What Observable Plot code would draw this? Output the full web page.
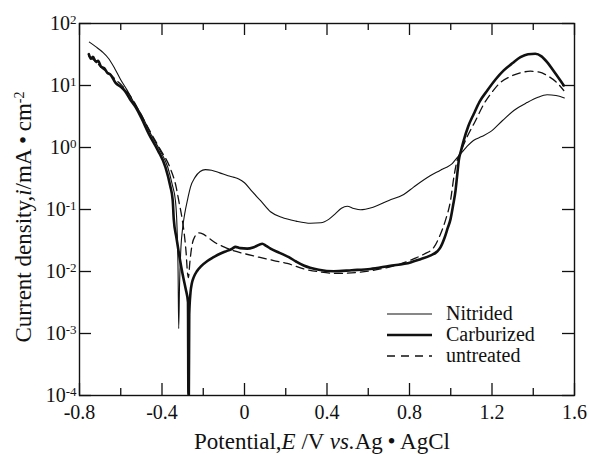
<!DOCTYPE html>
<html><head><meta charset="utf-8">
<script src="https://cdn.jsdelivr.net/npm/d3@7"></script>
<script src="https://cdn.jsdelivr.net/npm/@observablehq/plot@0.6"></script>
<style>
body{margin:0;background:#fff;}
#wrap{position:relative;width:589px;height:454px;}
#wrap svg text, #wrap svg tspan{font-family:'Liberation Serif','Times New Roman',serif !important;}
</style></head><body><div id="wrap"></div>
<script>
// ---- data (potential E in V, current density i in mA/cm2) ----
const nitridedE = [-0.752,-0.72,-0.69,-0.658,-0.63,-0.601,-0.57,-0.54,-0.5,-0.455,-0.41,-0.372,-0.35,-0.335,-0.327,-0.322,-0.319,-0.315,-0.308,-0.3,-0.29,-0.275,-0.262,-0.24,-0.215,-0.19,-0.16,-0.12,-0.08,-0.05,-0.028,0.0,0.04,0.077,0.126,0.18,0.25,0.32,0.37,0.41,0.44,0.47,0.498,0.53,0.562,0.62,0.7,0.772,0.82,0.9,0.95,0.966,0.985,1.007,1.03,1.055,1.08,1.11,1.15,1.193,1.25,1.306,1.37,1.42,1.467,1.51,1.551];
const nitridedI = [50,42,35,27,19,12.5,8.5,5.6,3.4,1.66,0.9,0.48,0.25,0.14,0.05,0.01,0.0012,0.006,0.025,0.05,0.085,0.15,0.23,0.33,0.41,0.44,0.43,0.39,0.35,0.33,0.31,0.27,0.19,0.14,0.092,0.075,0.065,0.06,0.061,0.07,0.085,0.105,0.113,0.104,0.099,0.108,0.14,0.175,0.23,0.35,0.43,0.46,0.49,0.55,0.68,0.84,1.05,1.3,1.5,1.8,2.7,3.95,5.3,6.4,7.1,6.9,6.3];

const carburizedE = [-0.755,-0.745,-0.735,-0.72,-0.71,-0.695,-0.68,-0.665,-0.65,-0.625,-0.6,-0.58,-0.555,-0.528,-0.5,-0.464,-0.42,-0.383,-0.36,-0.348,-0.343,-0.33,-0.315,-0.3,-0.285,-0.274,-0.272,-0.27,-0.268,-0.262,-0.255,-0.246,-0.23,-0.21,-0.18,-0.15,-0.116,-0.085,-0.06,-0.044,-0.02,0.013,0.05,0.086,0.105,0.126,0.17,0.215,0.25,0.287,0.36,0.433,0.52,0.61,0.7,0.805,0.853,0.9,0.934,0.95,0.97,0.985,0.999,1.012,1.023,1.032,1.039,1.05,1.063,1.085,1.112,1.14,1.177,1.217,1.257,1.3,1.338,1.375,1.41,1.44,1.467,1.505,1.548];
const carburizedI = [32,27,29,24,25,20,19,16,15,11,9.5,8.2,6.0,4.5,3.0,1.66,0.9,0.48,0.24,0.14,0.07,0.035,0.017,0.009,0.0052,0.0032,0.0001,0.0001,0.002,0.0045,0.0065,0.0081,0.0102,0.0122,0.0148,0.017,0.0195,0.0215,0.0233,0.025,0.0238,0.0234,0.025,0.028,0.026,0.0234,0.02,0.017,0.0145,0.0125,0.0107,0.0101,0.0105,0.011,0.0123,0.014,0.0158,0.018,0.021,0.0245,0.035,0.05,0.07,0.12,0.2,0.38,0.62,0.89,1.3,2.2,3.5,5.5,8.3,12.5,17.5,23,28.6,32,32.6,29.5,23.8,16,10];

const untreatedE = [-0.755,-0.72,-0.69,-0.65,-0.62,-0.6,-0.57,-0.54,-0.5,-0.451,-0.41,-0.362,-0.33,-0.319,-0.305,-0.292,-0.283,-0.277,-0.272,-0.265,-0.255,-0.24,-0.222,-0.2,-0.17,-0.133,-0.1,-0.05,-0.003,0.07,0.142,0.207,0.287,0.37,0.449,0.55,0.659,0.75,0.82,0.87,0.918,0.95,0.975,0.999,1.015,1.03,1.05,1.08,1.12,1.16,1.2,1.241,1.29,1.338,1.386,1.43,1.467,1.51,1.548];
const untreatedI = [30,24,19,15,12,10.5,8,5.8,3.3,1.66,0.95,0.48,0.22,0.14,0.08,0.04,0.02,0.01,0.008,0.014,0.026,0.037,0.042,0.04,0.034,0.028,0.025,0.0215,0.0195,0.017,0.015,0.0135,0.011,0.0098,0.0093,0.0097,0.011,0.013,0.016,0.019,0.0245,0.04,0.068,0.14,0.33,0.6,0.88,1.5,2.7,5.0,7.8,11.2,14,16,17,16.5,14.5,11.5,8.3];

const seriesNames = ["Nitrided","Carburized","untreated"];
const xTicksMajor = [-0.8,-0.4,0,0.4,0.8,1.2,1.6];
const xTicksMinor = [-0.6,-0.2,0.2,0.6,1.0,1.4];
const yTicks = [1e-4,1e-3,1e-2,1e-1,1e0,1e1,1e2];

const toRows = (xs, ys) => xs.map((x,i)=>({E:x, I:ys[i]}));
const nit = toRows(nitridedE, nitridedI);
const carb = toRows(carburizedE, carburizedI);
const unt = toRows(untreatedE, untreatedI);

const W=589, H=454, mL=79, mR=15, mT=23, mB=59;
const fh = H-mT-mB, fw = W-mL-mR;
const font = "'Liberation Serif','Times New Roman',serif";
const ink = "#111";

const chart = Plot.plot({
  width: W, height: H, marginLeft: mL, marginRight: mR, marginTop: mT, marginBottom: mB,
  style: {fontFamily: font, background: "white", color: ink, overflow: "visible"},
  x: {domain: [-0.8, 1.6]},
  y: {type: "log", domain: [1e-4, 1e2]},
  marks: [
    Plot.line(nit, {x:"E", y:"I", stroke: ink, strokeWidth: 1.1, curve: "monotone-x", clip: true}),
    Plot.line(carb, {x:"E", y:"I", stroke: ink, strokeWidth: 2.6, curve: "monotone-x", clip: true}),
    Plot.line(unt, {x:"E", y:"I", stroke: ink, strokeWidth: 1.3, strokeDasharray: "8,5", curve: "monotone-x", clip: true}),
    Plot.tickX(xTicksMajor, {x: d=>d, insetTop: fh-12, stroke: ink, strokeWidth: 1.3}),
    Plot.tickX(xTicksMajor, {x: d=>d, insetBottom: fh-12, stroke: ink, strokeWidth: 1.3}),
    Plot.tickX(xTicksMinor, {x: d=>d, insetTop: fh-7, stroke: ink, strokeWidth: 1.3}),
    Plot.tickX(xTicksMinor, {x: d=>d, insetBottom: fh-7, stroke: ink, strokeWidth: 1.3}),
    Plot.tickY(yTicks, {y: d=>d, insetRight: fw-12, stroke: ink, strokeWidth: 1.3}),
    Plot.tickY(yTicks, {y: d=>d, insetLeft: fw-12, stroke: ink, strokeWidth: 1.3}),
    Plot.frame({stroke: ink, strokeWidth: 1.4}),
    Plot.axisX(xTicksMajor, {tickSize: 0, tickPadding: 9, fontSize: 20, label: null,
      tickFormat: d => d === 0 ? "0" : d.toFixed(1)}),
    Plot.axisY(yTicks, {tickSize: 0, tickPadding: 3, fontSize: 20, label: null,
      tickFormat: d => String(Math.round(Math.log10(d)))})
  ]
});
document.getElementById("wrap").appendChild(chart);

const svg = d3.select(chart);
// superscript exponents on y tick labels
svg.selectAll('g[aria-label="y-axis tick label"] text').each(function(){
  const t = d3.select(this);
  const e = t.text();
  t.text(null);
  t.append("tspan").text("10");
  t.append("tspan").attr("dy", "-0.45em").attr("font-size", 13).text(e);
});

// axis titles
const xl = svg.append("text").attr("x", 322).attr("y", 449).attr("text-anchor","middle")
  .attr("font-size", 23).attr("fill", ink);
xl.append("tspan").text("Potential,");
xl.append("tspan").attr("font-style","italic").text("E");
xl.append("tspan").text(" /V ");
xl.append("tspan").attr("font-style","italic").text("vs.");
xl.append("tspan").text("Ag\u2009\u2022\u2009AgCl");

const yl = svg.append("text").attr("transform","translate(31,217) rotate(-90)").attr("text-anchor","middle")
  .attr("font-size", 23).attr("fill", ink);
yl.append("tspan").text("Current density,");
yl.append("tspan").attr("font-style","italic").text("i");
yl.append("tspan").text("/mA\u2009\u2022\u2009cm");
yl.append("tspan").attr("dy","-0.5em").attr("font-size", 14).text("-2");

// legend
const lg = svg.append("g").attr("font-size", 20).attr("fill", ink).attr("text-anchor", "start");
const styles = [{w:1.1, d:null},{w:2.6, d:null},{w:1.3, d:"8,6"}];
const ys = [314, 335, 356];
seriesNames.forEach((name,i)=>{
  lg.append("line").attr("x1",387).attr("x2",432).attr("y1",ys[i]).attr("y2",ys[i])
    .attr("stroke", ink).attr("stroke-width", styles[i].w).attr("stroke-dasharray", styles[i].d);
  lg.append("text").attr("x",446).attr("y",ys[i]+6).attr("text-anchor","start").text(name);
});
</script></body></html>
